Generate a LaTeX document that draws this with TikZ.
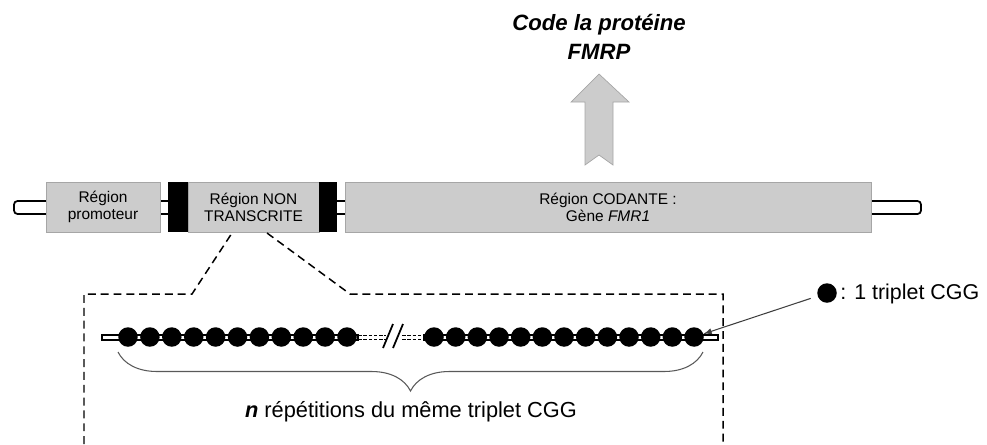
\documentclass[tikz,border=0pt]{standalone}
\usepackage{fontspec}
\setmainfont{Liberation Sans}
\usetikzlibrary{arrows, decorations.pathreplacing}
\definecolor{boxgray}{HTML}{CCCCCC}
\definecolor{edgegray}{HTML}{A6A6A6}
\tikzstyle{region} = [draw=edgegray, fill=boxgray, inner sep=0pt, minimum height=1cm, align=center, font=\fontsize{8.8}{9.8}\selectfont]
\tikzstyle{block} = [fill=black, inner sep=0pt, minimum height=1cm]
\tikzstyle{bead} = [circle, fill=black, inner sep=0pt, minimum size=0.39cm]
\tikzstyle{zoomline} = [line width=0.85pt, dash pattern=on 4.5pt off 2.8pt]
\tikzstyle{arrow} = [->, >=latex, draw=black!75, line width=0.6pt]
\begin{document}
\begin{tikzpicture}[x=0.02cm, y=-0.02cm]
    \useasboundingbox (0,0) rectangle (987,444);

    %gene backbone
    \draw[rounded corners=2, fill=white, line width=1pt] (14,201) rectangle (921,214);

    %regions of the gene
    \node[region, minimum width=2.28cm] (promo) at (103,207) {Région\\promoteur};
    \node[block, minimum width=0.40cm] (blk1) at (178,207) {};
    \node[region, minimum width=2.62cm] (nontr) at (253.5,207) {Région NON\\TRANSCRITE};
    \node[block, minimum width=0.36cm] (blk2) at (328,207) {};
    \node[region, minimum width=10.52cm] (coding) at (608,207) {Région CODANTE :\\Gène \textit{FMR1}};

    %protein arrow
    \draw[draw=edgegray, fill=boxgray] (599,74) -- (629,102) -- (613,102) -- (613,165)
        -- (599,155) -- (585,165) -- (585,102) -- (571,102) -- cycle;
    \node[align=center, font=\fontsize{12.6}{16.5}\selectfont\bfseries\itshape] (protein) at (599,37) {Code la protéine\\FMRP};

    %zoom on the non transcribed region
    \coordinate (zl) at (232,233);
    \coordinate (zr) at (267,233);
    \draw[zoomline] (84,444) -- (84,294) -- (192,294) -- (zl);
    \draw[zoomline] (zr) -- (350,294) -- (723,294) -- (723,444);

    %repeat backbone
    \draw[fill=white, line width=0.8pt] (102,335) rectangle (358,340);
    \draw[fill=white, line width=0.8pt] (424,335) rectangle (718,340);
    \draw[line width=0.4pt, dash pattern=on 2pt off 1pt] (358,335) -- (386,335) (358,339.5) -- (386,339.5);
    \draw[line width=0.4pt, dash pattern=on 2pt off 1pt] (402,335) -- (424,335) (402,339.5) -- (424,339.5);
    \draw[line width=1pt] (393,324) -- (383,348);
    \draw[line width=1pt] (403,324) -- (393,348);

    %CGG triplets
    \foreach \i in {1,...,11}
        \node[bead] (l\i) at ({128+(\i-1)*21.9},337) {};
    \foreach \i in {1,...,13}
        \node[bead] (r\i) at ({434+(\i-1)*21.67},337) {};

    %brace
    \coordinate (bra) at (703,352);
    \coordinate (brb) at (118,352);
    \draw[draw=black!65, line width=0.6pt, decorate, decoration={brace, amplitude=0.78cm}] (bra) -- (brb);
    \node[font=\fontsize{12.4}{14}\selectfont] (count) at (411,412) {\textbf{\textit{n}} répétitions du même triplet CGG};

    %legend
    \node[bead] (legdot) at (827,293) {};
    \node[anchor=west, inner sep=0pt, font=\fontsize{12.2}{14}\selectfont] (legtext) at (840,294) {: 1 triplet CGG};
    \draw[arrow, shorten <=4pt] (legdot) -- (r13);

\end{tikzpicture}
\end{document}
